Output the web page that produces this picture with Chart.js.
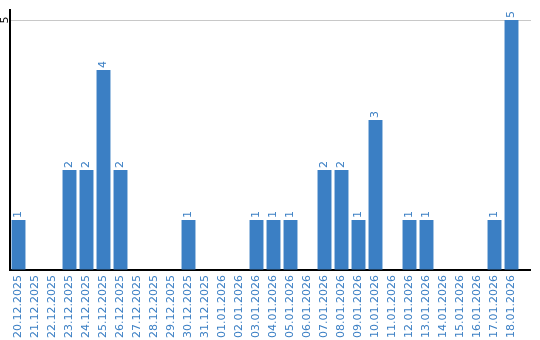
<!DOCTYPE html>
<html>
<head>
<meta charset="utf-8">
<script src="https://cdn.jsdelivr.net/npm/chart.js@4"></script>
<style>
html, body { margin: 0; padding: 0; background: #fff; }
#wrap { width: 540px; height: 340px; }
</style>
</head>
<body>
<div id="wrap"><canvas id="chart"></canvas></div>
<script>
var days = ['20.12.2025', '21.12.2025', '22.12.2025', '23.12.2025', '24.12.2025', '25.12.2025',
    '26.12.2025', '27.12.2025', '28.12.2025', '29.12.2025', '30.12.2025', '31.12.2025',
    '01.01.2026', '02.01.2026', '03.01.2026', '04.01.2026', '05.01.2026', '06.01.2026',
    '07.01.2026', '08.01.2026', '09.01.2026', '10.01.2026', '11.01.2026', '12.01.2026',
    '13.01.2026', '14.01.2026', '15.01.2026', '16.01.2026', '17.01.2026', '18.01.2026'];
var counts = [1, 0, 0, 2, 2, 4, 2, 0, 0, 0, 1, 0, 0, 0, 1, 1, 1, 0, 2, 2, 1, 3, 0, 1, 1, 0, 0, 0, 1, 5];
var yTicks = [0, 5];

var blue = '#3b7fc4';
var gridGrey = '#c8c8c8';
var tail = 11; // axis and grid run on a bit past the last bar

// value labels above the bars, rotated
var barLabels = {
    id: 'barLabels',
    afterDatasetsDraw: function(chart) {
        var ctx = chart.ctx;
        var meta = chart.getDatasetMeta(0);
        ctx.save();
        ctx.font = '11px "DejaVu Sans"';
        ctx.fillStyle = blue;
        ctx.textAlign = 'left';
        ctx.textBaseline = 'middle';
        meta.data.forEach(function(bar, i) {
            if (!counts[i]) return;
            ctx.save();
            ctx.translate(bar.x, bar.y - 2);
            ctx.rotate(-Math.PI / 2);
            ctx.fillText(String(counts[i]), 0, 0);
            ctx.restore();
        });
        ctx.restore();
    }
};

// rotated y tick text + the axis/grid run-on at the right
var yExtras = {
    id: 'yExtras',
    afterDraw: function(chart) {
        var ctx = chart.ctx;
        var y = chart.scales.y;
        var area = chart.chartArea;
        ctx.save();
        ctx.font = '11px "DejaVu Sans"';
        ctx.fillStyle = '#000';
        ctx.textAlign = 'center';
        ctx.textBaseline = 'middle';
        yTicks.forEach(function(v) {
            if (v === 0) return;
            var py = y.getPixelForValue(v);
            ctx.save();
            ctx.translate(area.left - 5, py);
            ctx.rotate(-Math.PI / 2);
            ctx.fillText(String(v), 0, 0);
            ctx.restore();
            ctx.strokeStyle = gridGrey;
            ctx.lineWidth = 1;
            ctx.beginPath();
            ctx.moveTo(area.right, Math.round(py) + 0.5);
            ctx.lineTo(area.right + tail, Math.round(py) + 0.5);
            ctx.stroke();
        });
        var p0 = y.getPixelForValue(0);
        ctx.strokeStyle = '#000';
        ctx.lineWidth = 2;
        ctx.beginPath();
        ctx.moveTo(area.right - 1, p0);
        ctx.lineTo(area.right + tail, p0);
        ctx.stroke();
        ctx.restore();
    }
};

var ctx = document.getElementById('chart').getContext('2d');
var chart = new Chart(ctx, {
    type: 'bar',
    data: {
        labels: days,
        datasets: [{
            data: counts,
            backgroundColor: blue,
            barPercentage: 0.82,
            categoryPercentage: 1.0
        }]
    },
    options: {
        responsive: true,
        maintainAspectRatio: false,
        animation: false,
        devicePixelRatio: 1,
        layout: {
            padding: { left: 10, right: 20, top: 10, bottom: 0 }
        },
        plugins: {
            legend: { display: false },
            tooltip: { enabled: false }
        },
        scales: {
            x: {
                grid: { display: false, drawTicks: false },
                border: { color: '#000', width: 2 },
                afterFit: function(scale) { scale.height = 70; },
                ticks: {
                    color: blue,
                    font: { size: 11, family: 'DejaVu Sans' },
                    minRotation: 90,
                    maxRotation: 90,
                    padding: 5,
                    autoSkip: false
                }
            },
            y: {
                min: 0,
                max: 5.2,
                afterBuildTicks: function(axis) {
                    axis.ticks = yTicks.map(function(v) { return { value: v }; });
                },
                grid: {
                    drawTicks: false,
                    color: function(c) { return c.tick && c.tick.value === 5 ? gridGrey : 'rgba(0,0,0,0)'; },
                    lineWidth: 1
                },
                border: { color: '#000', width: 2 },
                ticks: { display: false }
            }
        }
    },
    plugins: [barLabels, yExtras]
});
</script>
</body>
</html>
